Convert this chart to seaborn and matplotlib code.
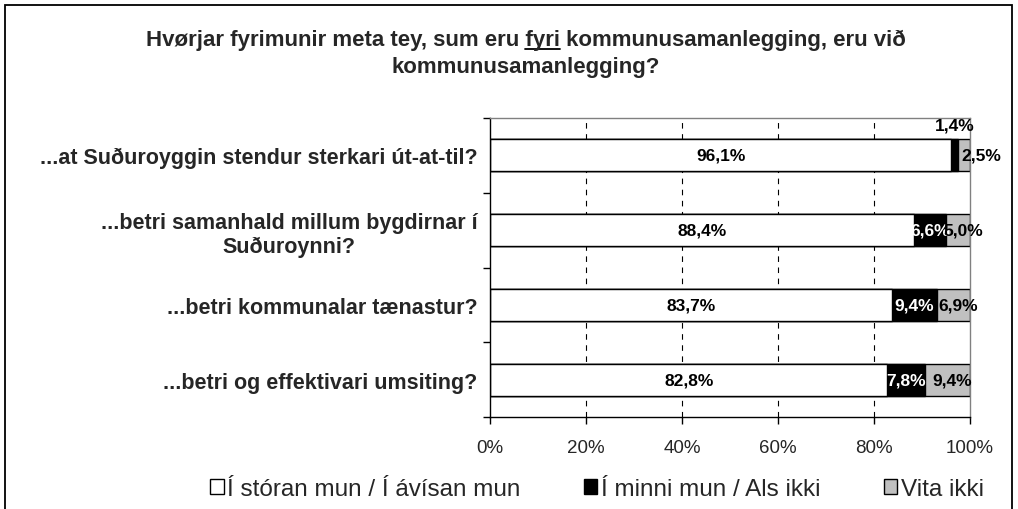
import matplotlib
matplotlib.use('Agg')
import matplotlib.pyplot as plt
from matplotlib.patches import Patch, Rectangle
from matplotlib.lines import Line2D
import seaborn as sns
import pandas as pd

# data
questions = ['...at Suðuroyggin stendur sterkari út-at-til?',
             '...betri samanhald millum bygdirnar í\nSuðuroynni?',
             '...betri kommunalar tænastur?',
             '...betri og effektivari umsiting?']
stor = [96.1, 88.4, 83.7, 82.8]
minni = [1.4, 6.6, 9.4, 7.8]
vita = [2.5, 5.0, 6.9, 9.4]
series = ['Í stóran mun / Í ávísan mun', 'Í minni mun / Als ikki', 'Vita ikki']
xticks = [0, 20, 40, 60, 80, 100]

sns.set_theme(style='white')
plt.rcParams['font.family'] = ['Liberation Sans', 'DejaVu Sans']

df = pd.DataFrame({'q': questions, 's': stor, 'm': minni, 'v': vita})
df['cum_m'] = df['s'] + df['m']
df['cum_v'] = df['cum_m'] + df['v']

W, H = 1018, 510
fig = plt.figure(figsize=(W / 100, H / 100), dpi=100)
ax = fig.add_axes([490 / W, 1 - 418 / H, 480 / W, 299 / H])

colors = ['white', 'black', '#c0c0c0']
# stacked bars: draw cumulative totals from largest to smallest
for col, c in [('cum_v', colors[2]), ('cum_m', colors[1]), ('s', colors[0])]:
    sns.barplot(data=df, x=col, y='q', orient='h', color=c, saturation=1,
                edgecolor='black', linewidth=1, width=0.43, ax=ax)

ax.set_xlim(0, 100)
ax.set_ylim(3.5, -0.5)
ax.set_xlabel('')
ax.set_ylabel('')
ax.set_xticks(xticks)
ax.set_xticklabels([f'{t}%' for t in xticks], fontsize=13.5)
ax.tick_params(axis='x', direction='out', length=5, width=1, color='black',
               bottom=True, pad=11)
ax.set_yticks(range(len(questions)))
ax.set_yticklabels(questions, fontsize=15.5, fontweight='bold', ha='right',
                   multialignment='center')
ax.tick_params(axis='y', which='major', length=0, pad=9)
ax.set_yticks([i - 0.5 for i in range(len(questions) + 1)], minor=True)
ax.tick_params(axis='y', which='minor', direction='out', length=5, width=1,
               color='black', left=True)

ax.set_axisbelow(True)
for t in xticks[1:-1]:
    ax.axvline(t, color='black', lw=0.8, ls=(0, (5, 5)), zorder=0)

for side in ['left', 'bottom']:
    ax.spines[side].set_color('black')
    ax.spines[side].set_linewidth(1)
for side in ['top', 'right']:
    ax.spines[side].set_color('#808080')
    ax.spines[side].set_linewidth(1)


def fmt(v):
    return f'{v:.1f}%'.replace('.', ',')


lab = dict(ha='center', va='center', fontsize=12.5, fontweight='bold')
for i, row in df.iterrows():
    ax.text(row['s'] / 2, i, fmt(row['s']), color='black', **lab)
    if row['m'] < 3:
        ax.text(row['s'] + row['m'] / 2, i - 0.4, fmt(row['m']), color='black',
                clip_on=False, **lab)
    else:
        ax.text(row['s'] + row['m'] / 2, i, fmt(row['m']), color='white', **lab)
    if row['v'] < 3:
        ax.text(row['cum_m'] + 0.8, i, fmt(row['v']), color='black',
                clip_on=False, ha='left', va='center', fontsize=12.5,
                fontweight='bold')
    else:
        ax.text(row['cum_m'] + row['v'] / 2 + 1, i, fmt(row['v']), color='black',
                clip_on=False, **lab)

# title with underlined "fyri"
tsize = 16
line1 = 'Hvørjar fyrimunir meta tey, sum eru fyri kommunusamanlegging, eru við'
line2 = 'kommunusamanlegging?'
tx = 526 / W
t1 = fig.text(tx, 1 - 40 / H, line1, ha='center', va='center', fontsize=tsize,
              fontweight='bold')
fig.text(tx, 1 - 68 / H, line2, ha='center', va='center', fontsize=tsize,
         fontweight='bold')

fig.canvas.draw()
r = fig.canvas.get_renderer()
bb = t1.get_window_extent(r)
tmp = fig.text(0, 0, 'Hvørjar fyrimunir meta tey, sum eru fyri', fontsize=tsize,
               fontweight='bold')
w_full = tmp.get_window_extent(r).width
tmp.set_text('fyri')
w_f = tmp.get_window_extent(r).width
tmp.remove()
x0 = (bb.x0 + w_full - w_f) / W
x1 = (bb.x0 + w_full) / W
yu = (bb.y0 + 1) / H
fig.add_artist(Line2D([x0, x1], [yu, yu], color='black', lw=1.3,
                      transform=fig.transFigure))

# legend
handles = [Patch(facecolor=c, edgecolor='black', linewidth=1) for c in colors]
fig.legend(handles, series, loc='center', bbox_to_anchor=(597 / W, 1 - 490 / H),
           ncol=3, frameon=False, fontsize=17.5, handlelength=0.55,
           handleheight=0.55, handletextpad=0.15, columnspacing=2.6)

# outer chart border
fig.add_artist(Rectangle((5 / W, -0.1), (1012 - 5) / W, 1.1 - 6 / H,
                         transform=fig.transFigure, fill=False,
                         edgecolor='black', lw=1.3, clip_on=False))

fig.savefig('out.png', dpi=100)
